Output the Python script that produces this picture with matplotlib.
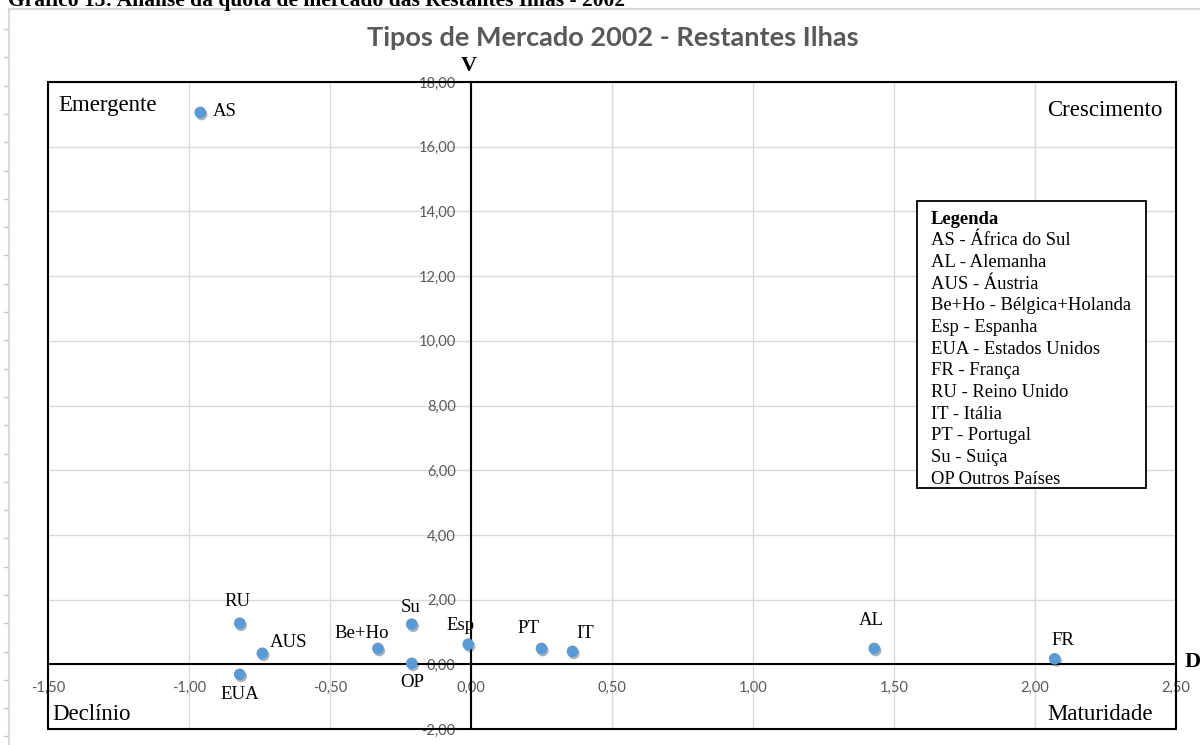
import matplotlib
matplotlib.use("Agg")
import matplotlib.pyplot as plt
from matplotlib.patches import Rectangle
from matplotlib.lines import Line2D
from matplotlib.ticker import FuncFormatter, MultipleLocator
import matplotlib.patheffects as pe

# ---- data -------------------------------------------------------------
codes = ["AS", "AL", "AUS", "Be+Ho", "Esp", "EUA", "FR", "RU", "IT", "PT", "Su", "OP"]
d_values = [-0.96, 1.43, -0.74, -0.33, -0.01, -0.82, 2.07, -0.82, 0.36, 0.25, -0.21, -0.21]
v_values = [17.06, 0.49, 0.34, 0.49, 0.62, -0.31, 0.17, 1.27, 0.40, 0.49, 1.24, 0.03]

legend_lines = [
    "AS - África do Sul",
    "AL - Alemanha",
    "AUS - Áustria",
    "Be+Ho - Bélgica+Holanda",
    "Esp - Espanha",
    "EUA - Estados Unidos",
    "FR - França",
    "RU - Reino Unido",
    "IT - Itália",
    "PT - Portugal",
    "Su - Suiça",
    "OP Outros Países",
]

quadrants = ["Emergente", "Crescimento", "Declínio", "Maturidade"]
chart_title = "Tipos de Mercado 2002 - Restantes Ilhas"
caption = "Gráfico 13: Análise da quota de mercado das Restantes Ilhas - 2002"

# label placement around each point (pixels: dx, dy, horizontal alignment)
label_offsets = {
    "AS": (13, 1, "left"),
    "AL": (-3, 28, "center"),
    "AUS": (7, 11, "left"),
    "Be+Ho": (-16, 15, "center"),
    "Esp": (-8, 19, "center"),
    "EUA": (0, -20, "center"),
    "FR": (8, 18, "center"),
    "RU": (-2, 22, "center"),
    "IT": (13, 18, "center"),
    "PT": (-13, 20, "center"),
    "Su": (-1, 17, "center"),
    "OP": (0, -19, "center"),
}

# ---- figure -----------------------------------------------------------
W, H = 1200, 745
fig = plt.figure(figsize=(W / 100, H / 100), dpi=100)
fig.patch.set_facecolor("white")


def fx(px):
    return px / W


def fy(py):
    return 1 - py / H


SERIF = ["Liberation Serif", "DejaVu Serif"]
SANS = ["Lato", "DejaVu Sans"]
GRAY = "#595959"

# page rule marks on the left edge
y = 29.0
while y < H:
    fig.add_artist(Line2D([fx(4), fx(9)], [fy(y), fy(y)], color="#c8c8c8", lw=1))
    y += 28.3

# chart area border (light gray)
fig.add_artist(Line2D([fx(9), fx(9)], [fy(9), fy(H + 5)], color="#d9d9d9", lw=1.5))
fig.add_artist(Line2D([fx(9), fx(W + 5)], [fy(9), fy(9)], color="#d9d9d9", lw=1.5))

# document caption, cut at the top edge
fig.text(fx(8), fy(6), caption, ha="left", va="baseline", fontsize=15.5,
         fontweight="bold", family=SERIF, color="black")

# chart title
fig.text(fx(613), fy(38), chart_title, ha="center", va="center", fontsize=19.5,
         fontweight="bold", family=SANS, color=GRAY)

# ---- plot area --------------------------------------------------------
ax = fig.add_axes([fx(48), fy(729), (1176 - 48) / W, (729 - 82) / H])
ax.set_xlim(-1.5, 2.5)
ax.set_ylim(-2, 18)
ax.xaxis.set_major_locator(MultipleLocator(0.5))
ax.yaxis.set_major_locator(MultipleLocator(2))
fmt = FuncFormatter(lambda v, p: f"{v:.2f}".replace(".", ","))
ax.xaxis.set_major_formatter(fmt)
ax.yaxis.set_major_formatter(fmt)

ax.grid(True, color="#d9d9d9", lw=1)
ax.set_axisbelow(True)

# axes crossing at the origin
ax.spines["left"].set_position(("data", 0))
ax.spines["bottom"].set_position(("data", 0))
for s in ("left", "bottom"):
    ax.spines[s].set_linewidth(1.5)
    ax.spines[s].set_color("black")
ax.spines["top"].set_visible(False)
ax.spines["right"].set_visible(False)

ax.tick_params(axis="both", length=0, labelsize=10.5, labelcolor=GRAY)
ax.tick_params(axis="x", pad=12)
ax.tick_params(axis="y", pad=11)
for lab in ax.get_xticklabels() + ax.get_yticklabels():
    lab.set_family(SANS)

# outer frame
ax.add_patch(Rectangle((0, 0), 1, 1, transform=ax.transAxes, fill=False,
                       ec="black", lw=1.5, zorder=3, clip_on=False))

# points
sc = ax.scatter(d_values, v_values, s=70, color="#5B9BD5", zorder=5, linewidths=0)
sc.set_path_effects([pe.SimplePatchShadow(offset=(1, -1.5), shadow_rgbFace="black",
                                          alpha=0.3), pe.Normal()])

for code, xv, yv in zip(codes, d_values, v_values):
    dx, dy, ha = label_offsets[code]
    ax.annotate(code, (xv, yv), xytext=(dx, dy), textcoords="offset pixels",
                ha=ha, va="center", fontsize=13.5, family=SERIF, color="black",
                zorder=6)

# quadrant names
fig.text(fx(58), fy(106), quadrants[0], ha="left", va="center", fontsize=16.5, family=SERIF)
fig.text(fx(1162), fy(110), quadrants[1], ha="right", va="center", fontsize=16.5, family=SERIF)
fig.text(fx(52), fy(714), quadrants[2], ha="left", va="center", fontsize=16.5, family=SERIF)
fig.text(fx(1153), fy(715), quadrants[3], ha="right", va="center", fontsize=16.5, family=SERIF)

# axis names
fig.text(fx(469), fy(66), "V", ha="center", va="center", fontsize=16,
         fontweight="bold", family=SERIF)
fig.text(fx(1193), fy(662), "D", ha="center", va="center", fontsize=16,
         fontweight="bold", family=SERIF)

# legend box
fig.add_artist(Rectangle((fx(917), fy(488)), (1146 - 917) / W, (488 - 201) / H,
                         fill=True, fc="white", ec="black", lw=1.3,
                         transform=fig.transFigure, zorder=4))
fig.text(fx(931), fy(219), "Legenda", ha="left", va="center", fontsize=13.4,
         fontweight="bold", family=SERIF, zorder=5)
for i, line in enumerate(legend_lines):
    fig.text(fx(931), fy(219 + 21.7 * (i + 1)), line, ha="left", va="center",
             fontsize=13.4, family=SERIF, zorder=5)

fig.savefig("out.png", dpi=100, facecolor="white")
